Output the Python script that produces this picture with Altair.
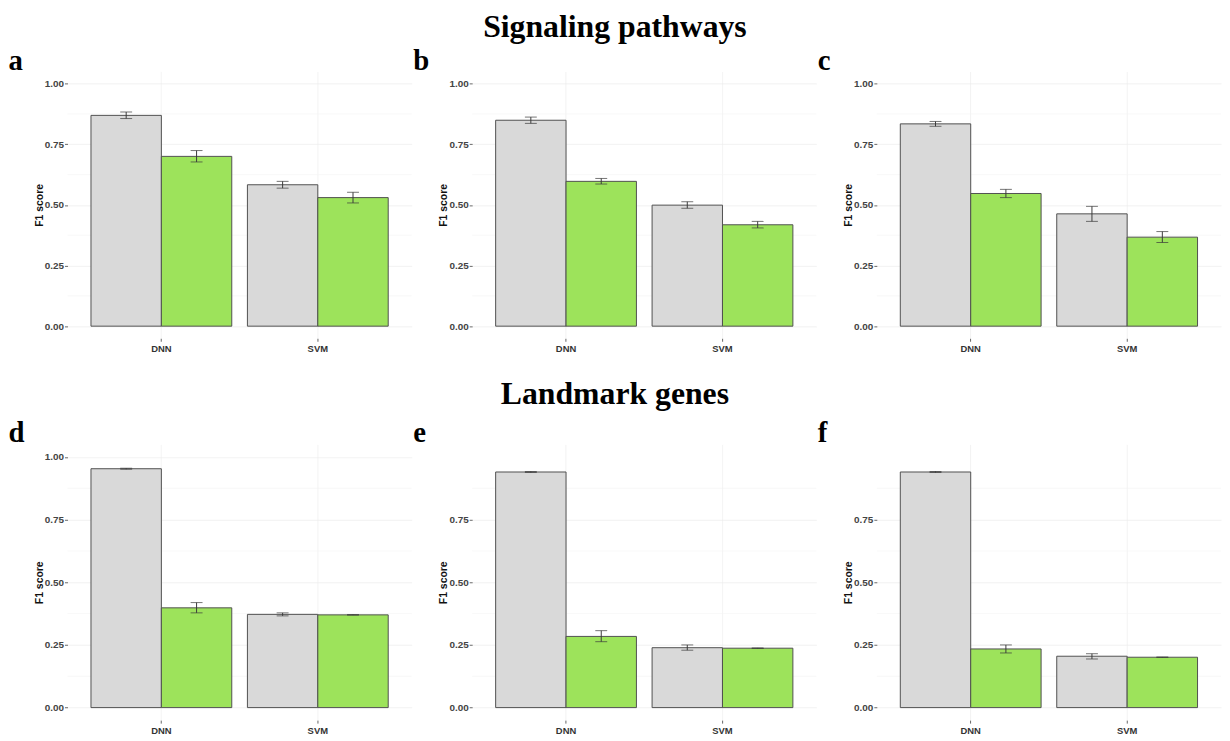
import altair as alt
import pandas as pd

methods = ["DNN", "SVM"]
groups = ["Group 1", "Group 2"]
bar_colors = ["#d9d9d9", "#9de35b"]

# order in each list: DNN-Group1, DNN-Group2, SVM-Group1, SVM-Group2
f1_a = [0.869, 0.700, 0.583, 0.530]
lo_a = [0.856, 0.677, 0.569, 0.508]
hi_a = [0.883, 0.724, 0.597, 0.552]

f1_b = [0.849, 0.597, 0.499, 0.418]
lo_b = [0.836, 0.586, 0.486, 0.405]
hi_b = [0.862, 0.609, 0.513, 0.432]

f1_c = [0.834, 0.547, 0.463, 0.367]
lo_c = [0.824, 0.530, 0.432, 0.345]
hi_c = [0.844, 0.564, 0.494, 0.390]

f1_d = [0.953, 0.398, 0.372, 0.370]
lo_d = [0.951, 0.378, 0.366, 0.369]
hi_d = [0.955, 0.419, 0.378, 0.371]

f1_e = [0.940, 0.284, 0.239, 0.237]
lo_e = [0.938, 0.263, 0.229, 0.236]
hi_e = [0.942, 0.307, 0.250, 0.238]

f1_f = [0.940, 0.234, 0.205, 0.201]
lo_f = [0.938, 0.218, 0.194, 0.200]
hi_f = [0.942, 0.250, 0.215, 0.202]

ticks_full = [0.0, 0.25, 0.5, 0.75, 1.0]
ticks_short = [0.0, 0.25, 0.5, 0.75]
minor_grid = [0.125, 0.375, 0.625, 0.875]

SANS = "Liberation Sans"
SERIF = "Liberation Serif"
W = 347


def panel(letter, f1, lo, hi, ticks, height):
    df = pd.DataFrame({
        "method": [m for m in methods for _ in groups],
        "group": groups * len(methods),
        "f1": f1, "lo": lo, "hi": hi,
    })
    gdf = pd.DataFrame({"f1": minor_grid})
    yscale = alt.Scale(domain=[-0.05, 1.05], nice=False, zero=False)
    x = alt.X("method:N", sort=methods,
              scale=alt.Scale(paddingInner=0.1, paddingOuter=0.15),
              axis=alt.Axis(title=None, labelAngle=0, grid=True, gridColor="#eeeeee",
                            gridWidth=0.7, bandPosition=0.5, domain=False, tickSize=3,
                            tickColor="#666666", labelFont=SANS, labelFontSize=9.5,
                            labelFontWeight="bold", labelColor="#333333", labelPadding=2))
    xo = alt.XOffset("group:N", sort=groups,
                     scale=alt.Scale(domain=groups, paddingInner=0, paddingOuter=0))
    y_axis = alt.Axis(values=ticks, format=".2f", title="F1 score", grid=True,
                      gridColor="#ececec", gridWidth=0.7, domain=False, tickSize=3,
                      tickColor="#666666", labelFont=SANS, labelFontSize=10,
                      labelFontWeight="bold", labelColor="#444444", labelPadding=1,
                      titleFont=SANS, titleFontSize=10.5, titleFontWeight="bold",
                      titleColor="#111111", titlePadding=0)
    grid = alt.Chart(gdf).mark_rule(color="#f4f4f4", strokeWidth=0.6).encode(
        y=alt.Y("f1:Q", scale=yscale, axis=y_axis))
    base = alt.Chart(df)
    bars = base.mark_bar(stroke="#505050", strokeWidth=1).encode(
        x=x, xOffset=xo,
        y=alt.Y("f1:Q", scale=yscale, axis=y_axis),
        y2=alt.datum(0),
        color=alt.Color("group:N", scale=alt.Scale(domain=groups, range=bar_colors),
                        legend=None))
    rule = base.mark_rule(color="#3a3a3a", strokeWidth=1).encode(
        x=x, xOffset=xo, y="lo:Q", y2="hi:Q")
    t_lo = base.mark_tick(color="#3a3a3a", size=12, thickness=1).encode(
        x=x, xOffset=xo, y="lo:Q")
    t_hi = base.mark_tick(color="#3a3a3a", size=12, thickness=1).encode(
        x=x, xOffset=xo, y="hi:Q")
    return alt.layer(grid, bars, rule, t_lo, t_hi).properties(
        width=W, height=height,
        title=alt.TitleParams(letter, anchor="start", frame="bounds", font=SERIF,
                              fontSize=29, fontWeight="bold", color="#000000",
                              dx=-26, offset=-27, baseline="alphabetic"))


row_title = dict(anchor="middle", font=SERIF, fontSize=32, fontWeight="bold",
                 color="#000000", dy=-3)

top = alt.hconcat(
    panel("a", f1_a, lo_a, hi_a, ticks_full, 269),
    panel("b", f1_b, lo_b, hi_b, ticks_full, 269),
    panel("c", f1_c, lo_c, hi_c, ticks_full, 269),
    spacing=0,
    title=alt.TitleParams("Signaling pathways", offset=0, **row_title),
)
bottom = alt.hconcat(
    panel("d", f1_d, lo_d, hi_d, ticks_full, 278),
    panel("e", f1_e, lo_e, hi_e, ticks_short, 278),
    panel("f", f1_f, lo_f, hi_f, ticks_short, 278),
    spacing=0,
    title=alt.TitleParams("Landmark genes", offset=6, **row_title),
)

chart = alt.vconcat(top, bottom, spacing=25).properties(
    padding={"left": 0, "right": 0, "top": 0, "bottom": 0},
    background="white",
).configure_view(stroke=None).resolve_scale(y="independent", x="independent")

chart.save("out.html", embed_options={"renderer": "svg", "actions": False})
